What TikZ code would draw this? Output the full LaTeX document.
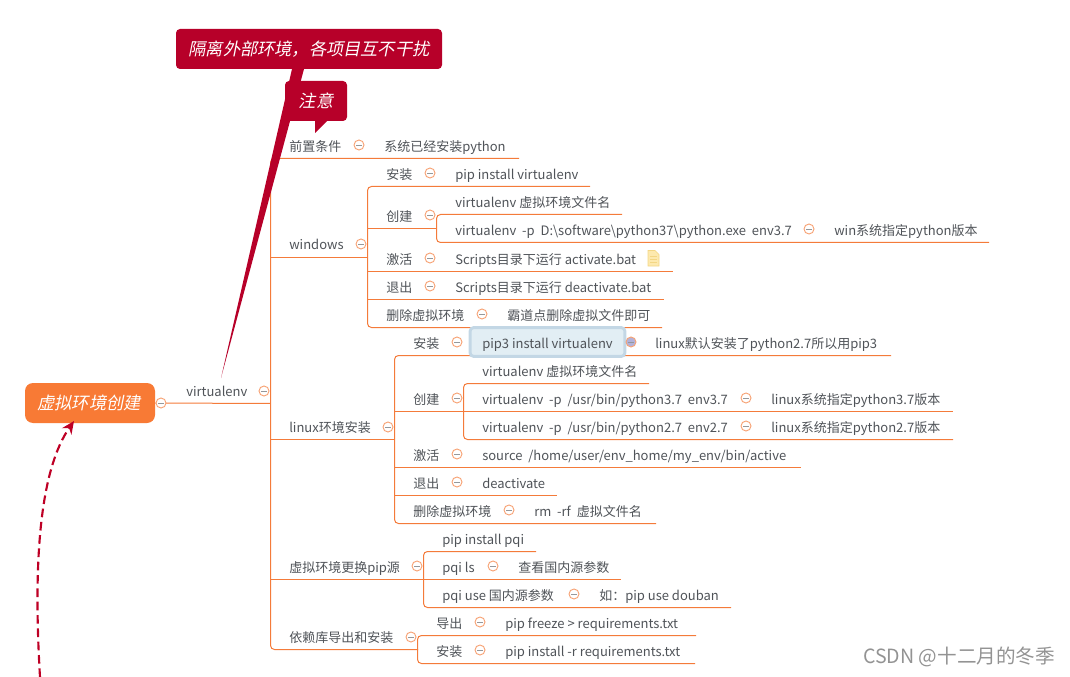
\documentclass[tikz,border=0pt]{standalone}
\usepackage{fontspec}
\usepackage{xcolor}
\usetikzlibrary{arrows.meta}
\setmainfont{Noto Sans CJK SC}
\newfontfamily\slantfont[FakeSlant=0.2]{Noto Sans CJK SC}
\newfontfamily\widefont[WordSpace=2]{Noto Sans CJK SC}
\definecolor{linkorange}{HTML}{F47B3A}
\definecolor{rootorange}{HTML}{F87A35}
\definecolor{crimson}{HTML}{B70029}
\definecolor{textgray}{HTML}{4F5358}
\definecolor{selfill}{HTML}{E2EEF4}
\definecolor{selrim}{HTML}{C3D7E5}
\definecolor{notefill}{HTML}{FDE9AE}
\definecolor{noterim}{HTML}{F3D684}

\begin{document}
\begin{tikzpicture}[x=0.75pt, y=-0.75pt,
    link/.style={draw=linkorange, line width=0.75pt},
    topic/.style={anchor=base west, inner sep=0pt, yshift=-4.1pt, text=textgray, font=\fontsize{9.75}{12}\selectfont},
    fold/.style={circle, draw=linkorange!70, fill=white, line width=0.7pt, minimum size=7.5pt, inner sep=0pt},
    foldbar/.style={draw=textgray!60, line width=0.6pt},
    callout/.style={fill=crimson, rounded corners=3pt, inner sep=0pt, text=white, font=\slantfont\fontsize{12.9}{15}\selectfont}]
    \useasboundingbox (0,0) rectangle (1070,677);

    % Underlines below each topic
    \foreach \nm/\xa/\xb/\y in {prereq/270.5/519/158.5, win/270.5/368/257.5, linux/270.5/395/439.5, mirror/270.5/424/579.5, deps/270.5/418/649.5,
        wina/367.5/590/186.5, winb/367.5/437/228.5, winc/367.5/673/271.5, wind/367.5/664/299.5, wine/367.5/662/327.5,
        winba/436.5/622/214.5, winbb/436.5/989/242.5,
        lina/394.5/891/355.5, linb/394.5/464/411.5, linc/394.5/801/467.5, lind/394.5/557/495.5, line/394.5/656/523.5,
        linba/463.5/649/383.5, linbb/463.5/953/411.5, linbc/463.5/953/439.5,
        mira/423.5/536/551.5, mirb/423.5/621/579.5, mirc/423.5/731/607.5,
        depa/417.5/696/635.5, depb/417.5/695/663.5}{
        \coordinate (\nm-l) at (\xa,\y);
        \coordinate (\nm-r) at (\xb,\y);
    }

    % Root node
    \node[fill=rootorange, rounded corners=6pt, minimum width=97.5pt, minimum height=30pt, inner sep=0pt,
          text=white, font=\slantfont\fontsize{12.9}{15}\selectfont] (root) at (90,403) {\hspace*{-1.5pt}虚拟环境创建};
    \coordinate (venv-r) at (270.5,403.5);
    \draw[link] (root.east) -- (venv-r);

    % Spines
    \draw[link, rounded corners=3pt] (prereq-r) -- (prereq-l) -- (deps-l) -- (deps-r);
    \draw[link, rounded corners=3pt] (wina-r) -- (wina-l) -- (wine-l) -- (wine-r);
    \draw[link, rounded corners=3pt] (winba-r) -- (winba-l) -- (winbb-l) -- (winbb-r);
    \draw[link, rounded corners=3pt] (lina-r) -- (lina-l) -- (line-l) -- (line-r);
    \draw[link, rounded corners=3pt] (linba-r) -- (linba-l) -- (linbc-l) -- (linbc-r);
    \draw[link, rounded corners=3pt] (mira-r) -- (mira-l) -- (mirc-l) -- (mirc-r);
    \draw[link, rounded corners=3pt] (depa-r) -- (depa-l) -- (depb-l) -- (depb-r);

    % Middle branches
    \foreach \nm in {win, linux, mirror, winb, winc, wind, linb, linc, lind, mirb, linbb}{
        \draw[link] (\nm-l) -- (\nm-r);
    }

    % Selected topic
    \node[draw=selrim, line width=2.2pt, fill=selfill, rounded corners=2.5pt,
          minimum width=116pt, minimum height=21.5pt, inner sep=0pt] (selbox) at (547.5,342) {};

    % Topic texts
    \foreach \nm/\x/\y/\lab in {tvenv/186/391/virtualenv, tprereq/289/146/前置条件, tsys/384/146/系统已经安装python,
        twin/289/244/windows, tlinux/289/427/linux环境安装, tmirror/289/567/虚拟环境更换pip源, tdeps/289/637/依赖库导出和安装,
        ta/386/174/安装, taa/455/174/pip install virtualenv, tb/386/216/创建,
        tba/455/202/virtualenv 虚拟环境文件名, tbb/455/230/{\widefont virtualenv -p D:\textbackslash software\textbackslash python37\textbackslash python.exe env3.7},
        tbc/834/230/win系统指定python版本,
        tc/386/259/激活, tca/455/259/Scripts目录下运行 activate.bat, td/386/287/退出, tda/455/287/Scripts目录下运行 deactivate.bat,
        te/386/315/删除虚拟环境, tea/507/315/霸道点删除虚拟文件即可,
        la/413/343/安装, laa/482/343/pip3 install virtualenv, lab/655/343/linux默认安装了python2.7所以用pip3,
        lb/413/399/创建, lba/482/371/virtualenv 虚拟环境文件名, lbb/482/399/{\widefont virtualenv -p /usr/bin/python3.7 env3.7},
        lbc/771/399/linux系统指定python3.7版本, lbd/482/427/{\widefont virtualenv -p /usr/bin/python2.7 env2.7}, lbe/771/427/linux系统指定python2.7版本,
        lc/413/455/激活, lca/482/455/{\widefont source /home/user/env\_home/my\_env/bin/active}, ld/413/483/退出, lda/482/483/deactivate,
        le/413/511/删除虚拟环境, lea/534/511/{\widefont rm -rf\ 虚拟文件名},
        ma/442/539/pip install pqi, mb/442/567/pqi ls, mba/518/567/查看国内源参数, mc/442/595/pqi use 国内源参数, mca/599/595/如：pip use douban,
        da/436/623/导出, daa/505/623/pip freeze > requirements.txt, db/436/651/安装, dba/505/651/pip install -r requirements.txt}{
        \node[topic] (\nm) at (\x,\y) {\lab};
    }

    % Collapse marks
    \foreach \nm/\x/\y in {f0/161/403, f1/264/391, f2/359/145, f3/361/244, f4/388/427, f5/417/566, f6/411/637,
        f7/430/173, f8/430/215, f9/809/229, f10/430/258, f11/430/286, f12/482/314,
        f13/457/342, f14/457/398, f15/746/398, f16/746/426, f17/457/454, f18/457/482, f19/509/510,
        f20/493/566, f21/574/594, f22/480/622, f23/480/650}{
        \node[fold] (\nm) at (\x,\y) {};
        \draw[foldbar] (\nm) ++(-3,0) -- ++(6,0);
    }
    \node[fold, fill=blue!35!gray!45] (fsel) at (631,342) {};
    \draw[foldbar] (fsel) ++(-3,0) -- ++(6,0);

    % Note icon
    \filldraw[fill=notefill, draw=noterim, line width=0.5pt] (648,250.5) -- (655,250.5) -- (659,254.5) -- (659,266) -- (648,266) -- cycle;
    \draw[noterim, line width=0.6pt] (650,256) -- (657,256) (650,259) -- (657,259) (650,262) -- (657,262);

    % Callouts
    \coordinate (wedgetip) at (221,378);
    \node[callout, minimum width=199.5pt, minimum height=30pt] (note) at (309,49) {隔离外部环境，各项目互不干扰};
    \fill[crimson] (292,69) -- (304,69) -- (wedgetip) -- cycle;
    \node[callout, minimum width=46.5pt, minimum height=30pt] (warn) at (316,101) {注意};
    \fill[crimson] (315,120) -- (328,120) -- (315,133) -- cycle;

    % Relation arrow
    \coordinate (relstart) at (40,677);
    \coordinate (relend) at (74,421);
    \draw[crimson!90!red, line width=1.6pt, dash pattern=on 6.5pt off 3.5pt, -{Stealth[length=9.5pt, width=8.5pt]}]
        (relstart) .. controls (33,560) and (40,470) .. (relend);

    % Watermark
    \node[anchor=west, inner sep=0pt, text=gray!85, font=\fontsize{14.7}{17}\selectfont] (mark) at (863,657) {CSDN @十二月的冬季};
\end{tikzpicture}
\end{document}
